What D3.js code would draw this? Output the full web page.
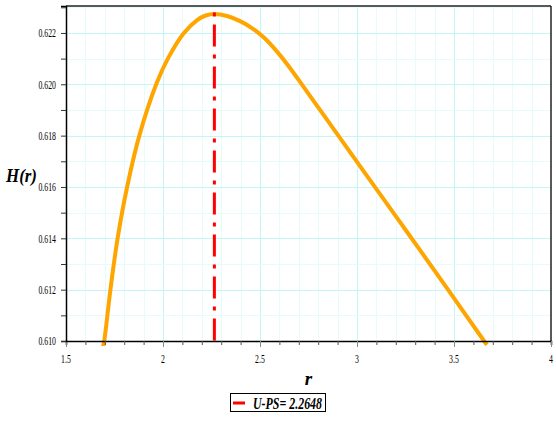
<!DOCTYPE html>
<html><head><meta charset="utf-8">
<script src="https://cdn.jsdelivr.net/npm/d3@7/dist/d3.min.js"></script>
<style>html,body{margin:0;padding:0;background:#fff;}svg{display:block;}</style>
</head><body>
<svg id="c" width="556" height="425"></svg>
<script>
// ---- data ----
const rValues = [1.690, 1.697, 1.729, 1.766, 1.815, 1.878, 1.965, 2.025, 2.108, 2.176, 2.220, 2.2648, 2.330, 2.400, 2.460, 2.520, 2.580, 2.640, 2.700, 2.800, 2.900, 3.080, 3.270, 3.460, 3.655, 3.670];
const hValues = [0.60975, 0.6100, 0.6120, 0.6140, 0.6160, 0.6180, 0.6200, 0.6210, 0.6220, 0.62250, 0.62268, 0.62274, 0.62266, 0.62245, 0.62218, 0.62182, 0.62134, 0.62078, 0.62016, 0.61910, 0.61804, 0.61613, 0.61412, 0.61210, 0.61000, 0.60985];
const upsValue = 2.2648;
const upsTop = 0.6228;
const xTickValues = [1.5, 2, 2.5, 3, 3.5, 4];
const xTickLabels = ["1.5", "2", "2.5", "3", "3.5", "4"];
const yTickValues = [0.610, 0.612, 0.614, 0.616, 0.618, 0.620, 0.622];
const yTickLabels = ["0.610", "0.612", "0.614", "0.616", "0.618", "0.620", "0.622"];
const legendLabel = "U-PS= 2.2648";

// ---- layout ----
const L = 66, R = 551, T = 6, B = 341;
const svg = d3.select("#c");
const x = d3.scaleLinear().domain([1.5, 4]).range([L, R]);
const y = d3.scaleLinear().domain([0.610, 0.62305]).range([B, T]);

// grid
const xMinor = d3.range(16, 40).map(d => d / 10);
const yMinor = d3.range(611, 624).map(d => d / 1000);
const grid = svg.append("g");
grid.selectAll(".vx").data(xMinor).join("line")
  .attr("x1", d => Math.round(x(d)) + 0.5).attr("x2", d => Math.round(x(d)) + 0.5)
  .attr("y1", T).attr("y2", B)
  .attr("stroke", d => (Math.abs(d * 2 - Math.round(d * 2)) < 1e-6) ? "#c4f6f6" : "#e6fbfb")
  .attr("stroke-width", 1);
grid.selectAll(".hy").data(yMinor).join("line")
  .attr("x1", L).attr("x2", R)
  .attr("y1", d => Math.round(y(d)) + 0.5).attr("y2", d => Math.round(y(d)) + 0.5)
  .attr("stroke", d => (Math.round(d * 1000) % 2 === 0) ? "#c4f6f6" : "#e6fbfb")
  .attr("stroke-width", 1);

// frame top & right
svg.append("line").attr("x1", L).attr("x2", R).attr("y1", T).attr("y2", T).attr("stroke", "#222").attr("stroke-width", 1.5);
svg.append("line").attr("x1", R).attr("x2", R).attr("y1", T).attr("y2", B).attr("stroke", "#222").attr("stroke-width", 1.5);

// clip (curve slightly overruns the bottom axis, as in the original)
svg.append("clipPath").attr("id", "clip").append("rect").attr("x", L).attr("y", T).attr("width", R - L).attr("height", B - T + 5);

// curve
const pts = rValues.map((r, i) => [r, hValues[i]]);
const line = d3.line().x(d => x(d[0])).y(d => y(d[1])).curve(d3.curveCatmullRom.alpha(0.5));
svg.append("path").attr("d", line(pts)).attr("fill", "none")
  .attr("stroke", "#FFA500").attr("stroke-width", 4).attr("clip-path", "url(#clip)");

// vertical dash-dot line
svg.append("line")
  .attr("x1", x(upsValue)).attr("x2", x(upsValue))
  .attr("y1", y(upsTop)).attr("y2", y(0.610))
  .attr("stroke", "#FF0000").attr("stroke-width", 3)
  .attr("stroke-dasharray", "4,8,22,8");

// axes
const tickFont = "'Liberation Serif','Times New Roman',serif";
const xAxis = d3.axisBottom(x).tickValues(xMinor.concat(xTickValues)).tickSizeOuter(0)
  .tickSize(4).tickFormat("");
const gx = svg.append("g").attr("transform", `translate(0,${B})`).call(xAxis);
gx.select(".domain").attr("stroke", "#000").attr("stroke-width", 1.5);
gx.selectAll(".tick line").attr("stroke", "#555");
gx.selectAll(".tick").filter(d => xTickValues.includes(d)).select("line").attr("y2", 6).attr("stroke", "#888");

const yAxis = d3.axisLeft(y).tickValues(yMinor.concat([0.610])).tickSizeOuter(0).tickSize(5).tickFormat("");
const gy = svg.append("g").attr("transform", `translate(${L},0)`).call(yAxis);
gy.select(".domain").attr("stroke", "#000").attr("stroke-width", 1.5);
gy.selectAll(".tick line").attr("stroke", "#333");

// tick labels (condensed serif)
svg.append("g").selectAll("text").data(xTickValues).join("text")
  .attr("transform", d => `translate(${x(d)},363) scale(0.6,1)`)
  .attr("text-anchor", "middle").attr("font-family", tickFont).attr("font-size", 13)
  .attr("fill", "#000").text((d, i) => xTickLabels[i]);
svg.append("g").selectAll("text").data(yTickValues).join("text")
  .attr("transform", d => `translate(56,${y(d) + 4.3}) scale(0.6,1)`)
  .attr("text-anchor", "end").attr("font-family", tickFont).attr("font-size", 13)
  .attr("fill", "#000").text((d, i) => yTickLabels[i]);

// axis titles
svg.append("text").attr("x", 6).attr("y", 182)
  .attr("font-family", tickFont).attr("font-weight", "bold").attr("font-style", "italic")
  .attr("font-size", 19).attr("textLength", 31).attr("lengthAdjust", "spacingAndGlyphs").text("H(r)");
svg.append("text").attr("x", 308.5).attr("y", 385).attr("text-anchor", "middle")
  .attr("font-family", tickFont).attr("font-weight", "bold").attr("font-style", "italic")
  .attr("font-size", 19).text("r");

// legend
const lg = svg.append("g");
lg.append("rect").attr("x", 230.5).attr("y", 393.5).attr("width", 95).attr("height", 18)
  .attr("fill", "#fff").attr("stroke", "#000").attr("stroke-width", 1);
lg.append("line").attr("x1", 233).attr("x2", 245).attr("y1", 403).attr("y2", 403)
  .attr("stroke", "#FF0000").attr("stroke-width", 3);
lg.append("text").attr("x", 253).attr("y", 408.5)
  .attr("font-family", tickFont).attr("font-weight", "bold").attr("font-style", "italic")
  .attr("font-size", 16).attr("textLength", 69).attr("lengthAdjust", "spacingAndGlyphs").text(legendLabel);
</script>
</body></html>
